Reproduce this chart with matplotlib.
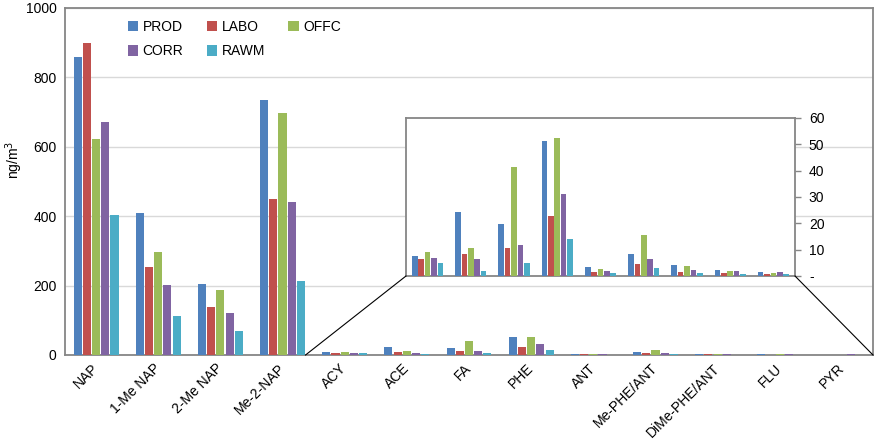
import matplotlib
matplotlib.use("Agg")
import matplotlib.pyplot as plt
from matplotlib.ticker import FuncFormatter
import numpy as np

plt.rcParams['font.family'] = ['Liberation Sans', 'DejaVu Sans']

categories = ["NAP", "1-Me NAP", "2-Me NAP", "Me-2-NAP", "ACY", "ACE", "FA", "PHE",
              "ANT", "Me-PHE/ANT", "DiMe-PHE/ANT", "FLU", "PYR"]
series = ["PROD", "LABO", "OFFC", "CORR", "RAWM"]
colors = ["#4F81BD", "#C0504D", "#9BBB59", "#8064A2", "#4BACC6"]

PROD = [858, 408, 205, 735, 7.5, 24.3, 19.9, 51.4, 3.4, 8.4, 4.0, 2.3, 1.4]
LABO = [900, 254, 137, 449, 6.5, 8.2, 10.8, 22.9, 1.6, 4.4, 1.6, 1.3, 0.6]
OFFC = [622, 297, 188, 698, 9.2, 10.6, 41.5, 52.5, 2.8, 15.6, 3.9, 2.0, 1.1]
CORR = [672, 201, 121, 440, 7.0, 6.4, 11.6, 31.3, 2.0, 6.3, 2.4, 2.0, 1.5]
RAWM = [403, 113, 70, 213, 4.8, 2.0, 4.8, 14.2, 1.1, 3.1, 1.0, 0.9, 0.6]
values = [PROD, LABO, OFFC, CORR, RAWM]

inset_start = 4  # first category shown in the inset (ACY)

fig = plt.figure(figsize=(8.75, 4.43), dpi=100)
ax = fig.add_axes([65/875, 1-355/443, 808/875, 347/443])

n = len(series)
group = 0.74
bw = group / n
x = np.arange(len(categories))
spine_c = "#868686"

handles = []
for i, (s, vals, c) in enumerate(zip(series, values, colors)):
    off = -group/2 + bw*(i+0.5)
    b = ax.bar(x + off, vals, width=bw*0.88, color=c, linewidth=0,
               label=s, zorder=4)
    handles.append(b)

ax.set_xlim(-0.5, len(categories)-0.5)
ax.set_ylim(0, 1000)
ax.set_yticks([0, 200, 400, 600, 800, 1000])
ax.grid(axis="y", color="#D9D9D9", linewidth=1, zorder=0)
ax.set_axisbelow(True)
for sp in ax.spines.values():
    sp.set_color(spine_c)
    sp.set_linewidth(1.3)
    sp.set_zorder(3)
ax.tick_params(axis="both", length=0, labelsize=10, colors="black")
ax.tick_params(axis="y", pad=6)
ax.set_xticks(x)
ax.set_xticklabels(categories, rotation=45, ha="right", va="center",
                   rotation_mode="anchor", fontsize=10)
ax.tick_params(axis="x", pad=8)
fig.text(14/875, 1-160/443, "ng/m$^3$", rotation=90, va="center", ha="center",
         fontsize=10)

# legend filled row-wise like the reference
order = [0, 3, 1, 4, 2]
leg = ax.legend([handles[k] for k in order], [series[k] for k in order],
                ncol=3, loc="upper left", bbox_to_anchor=(121/875, 1-13/443),
                bbox_transform=fig.transFigure, frameon=False, fontsize=10,
                handlelength=0.75, handleheight=0.75, handletextpad=0.3,
                columnspacing=1.7, borderpad=0, labelspacing=0.75)

# inset
ins = fig.add_axes([406/875, 1-276/443, 389/875, 158/443])
xi = np.arange(len(categories) - inset_start)
for i, (s, vals, c) in enumerate(zip(series, values, colors)):
    off = -group/2 + bw*(i+0.5)
    ins.bar(xi + off, vals[inset_start:], width=bw*0.88, color=c, linewidth=0,
            zorder=4)
ins.set_xlim(-0.5, len(xi)-0.5)
ins.set_ylim(0, 60)
ins.set_yticks([0, 10, 20, 30, 40, 50, 60])
ins.yaxis.set_major_formatter(FuncFormatter(lambda v, p: "-" if v == 0 else f"{v:.0f}"))
ins.yaxis.tick_right()
ins.set_xticks([])
ins.tick_params(axis="y", length=4, width=1, color=spine_c, labelsize=10, pad=6)
for sp in ins.spines.values():
    sp.set_color(spine_c)
    sp.set_linewidth(1.3)
    sp.set_zorder(3)
ins.set_facecolor("white")

# connector lines (figure coords)
inv = fig.transFigure.inverted()
p_left = inv.transform(ax.transData.transform((inset_start - 1 + group/2, 0)))
p_right = inv.transform(ax.transAxes.transform((1, 0)))
ins_bl = inv.transform(ins.transAxes.transform((0, 0)))
ins_br = inv.transform(ins.transAxes.transform((1, 0)))
fig.add_artist(plt.Line2D([p_left[0], ins_bl[0]], [p_left[1], ins_bl[1]],
                          transform=fig.transFigure, color="black", linewidth=0.8))
fig.add_artist(plt.Line2D([p_right[0], ins_br[0]], [p_right[1], ins_br[1]],
                          transform=fig.transFigure, color="black", linewidth=0.8))

fig.savefig("out.png", dpi=100)
